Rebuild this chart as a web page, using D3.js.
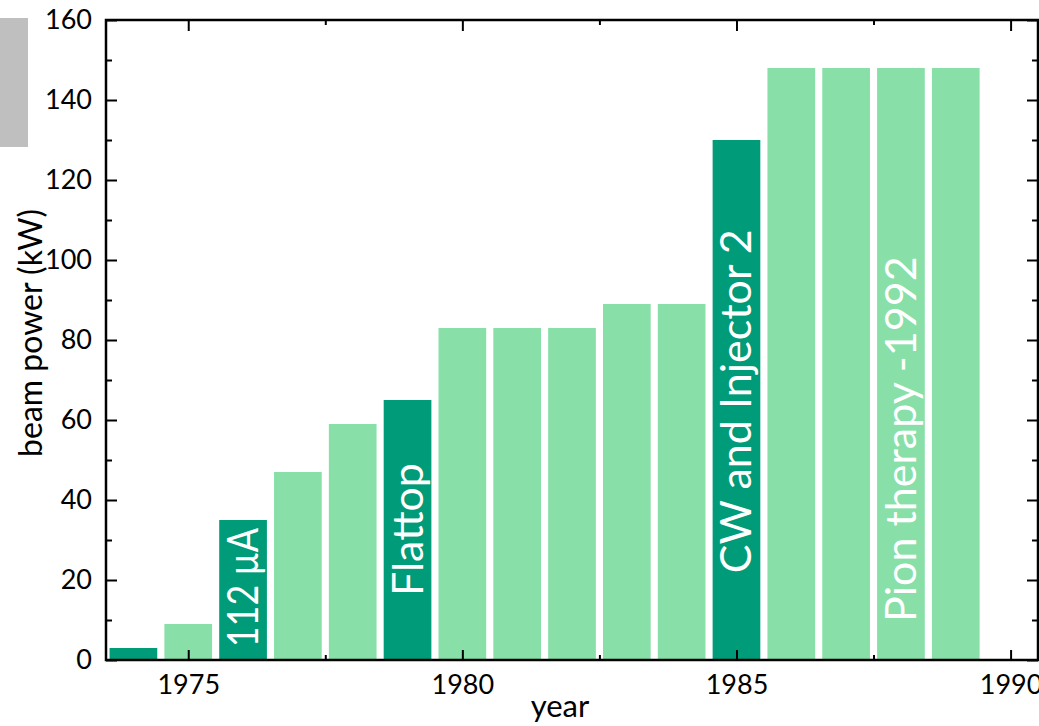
<!DOCTYPE html>
<html>
<head>
<meta charset="utf-8">
<script src="https://cdn.jsdelivr.net/npm/d3@7"></script>
<style>
  html, body { margin: 0; padding: 0; background: #fff; }
  svg { display: block; }
  text { font-family: Lato, "Open Sans", sans-serif; }
</style>
</head>
<body>
<svg id="chart" width="1039" height="726"></svg>
<script>
// Beam power history, one bar per year
const years  = [1974, 1975, 1976, 1977, 1978, 1979, 1980, 1981, 1982, 1983, 1984, 1985, 1986, 1987, 1988, 1989];
const power  = [3, 9, 35, 47, 59, 65, 83, 83, 83, 89, 89, 130, 148, 148, 148, 148];
// years with a milestone upgrade (drawn darker)
const milestoneYears = [1974, 1976, 1979, 1985];

// milestone annotations: year of the bar, text, and the kW level where the text starts
const noteYears  = [1976, 1979, 1985, 1988];
const noteTexts  = ["112 \u00b5A", "Flattop", "CW and Injector 2", "Pion therapy -1992"];
const noteStarts = [3.2, 16, 21.7, 9.5];

const xTicks = [1975, 1980, 1985, 1990];
const yTicks = [0, 20, 40, 60, 80, 100, 120, 140, 160];

const svg = d3.select("#chart");
const L = 106, R = 1038, T = 20, B = 660;

const x = d3.scaleLinear().domain([1973.5, 1990.5]).range([L, R]);
const y = d3.scaleLinear().domain([0, 160]).range([B, T]);

const dark = "#009b78", light = "#88e0a8";
const barW = x(1974.87) - x(1974);

// small grey block at the top-left edge
svg.append("rect").attr("x", 0).attr("y", 18).attr("width", 28).attr("height", 129).attr("fill", "#bfbfbf");

// bars
svg.append("g").selectAll("rect")
  .data(years.map((yr, i) => ({ yr, v: power[i] })))
  .join("rect")
  .attr("x", d => x(d.yr) - barW / 2)
  .attr("width", barW)
  .attr("y", d => y(d.v))
  .attr("height", d => y(0) - y(d.v))
  .attr("fill", d => milestoneYears.includes(d.yr) ? dark : light);

// annotations written inside the bars; squeezed if they would run past the bar top
svg.append("g").selectAll("text")
  .data(noteYears.map((yr, i) => ({ yr, t: noteTexts[i], s: noteStarts[i], v: power[years.indexOf(yr)] })))
  .join("text")
  .attr("transform", d => `translate(${x(d.yr) + 15},${y(d.s)}) rotate(-90)`)
  .attr("fill", "#fff")
  .attr("font-size", 43)
  .text(d => d.t)
  .each(function (d) {
    const room = y(d.s) - y(d.v) - 8;
    if (this.getComputedTextLength() > room) {
      d3.select(this).attr("textLength", room).attr("lengthAdjust", "spacingAndGlyphs");
    }
  });

// axes
const minorX = d3.range(1972.5, 1991, 2.5).filter(v => v > 1973.5 && v < 1990.5 && v % 5 !== 0);
const minorY = d3.range(10, 160, 20);

function styleAxis(g) {
  g.selectAll(".domain").remove();
  g.selectAll(".tick line").attr("stroke", "#000").attr("stroke-width", 2);
  g.selectAll(".tick text").attr("font-size", 27).attr("fill", "#000");
}

// bottom
svg.append("g").attr("transform", `translate(0,${B})`)
  .call(d3.axisBottom(x).tickValues(xTicks).tickFormat(d3.format("d")).tickSizeInner(-10).tickSizeOuter(0).tickPadding(15))
  .call(styleAxis);
svg.append("g").attr("transform", `translate(0,${B})`)
  .call(d3.axisBottom(x).tickValues(minorX).tickFormat("").tickSizeInner(-5).tickSizeOuter(0))
  .call(styleAxis);
// top
svg.append("g").attr("transform", `translate(0,${T})`)
  .call(d3.axisTop(x).tickValues(xTicks).tickFormat("").tickSizeInner(-11).tickSizeOuter(0))
  .call(styleAxis);
svg.append("g").attr("transform", `translate(0,${T})`)
  .call(d3.axisTop(x).tickValues(minorX).tickFormat("").tickSizeInner(-5).tickSizeOuter(0))
  .call(styleAxis);
// left
svg.append("g").attr("transform", `translate(${L},0)`)
  .call(d3.axisLeft(y).tickValues(yTicks).tickFormat(d3.format("d")).tickSizeInner(-11).tickSizeOuter(0).tickPadding(14))
  .call(styleAxis);
svg.append("g").attr("transform", `translate(${L},0)`)
  .call(d3.axisLeft(y).tickValues(minorY).tickFormat("").tickSizeInner(-6).tickSizeOuter(0))
  .call(styleAxis);
// right
svg.append("g").attr("transform", `translate(${R},0)`)
  .call(d3.axisRight(y).tickValues(yTicks).tickFormat("").tickSizeInner(-11).tickSizeOuter(0))
  .call(styleAxis);
svg.append("g").attr("transform", `translate(${R},0)`)
  .call(d3.axisRight(y).tickValues(minorY).tickFormat("").tickSizeInner(-6).tickSizeOuter(0))
  .call(styleAxis);

// frame
svg.append("rect").attr("x", L).attr("y", T).attr("width", R - L).attr("height", B - T)
  .attr("fill", "none").attr("stroke", "#000").attr("stroke-width", 2.5);

// axis titles
svg.append("text").attr("x", 560).attr("y", 717).attr("text-anchor", "middle")
  .attr("font-size", 31).text("year");
svg.append("text").attr("transform", `translate(42,333) rotate(-90)`).attr("text-anchor", "middle")
  .attr("font-size", 32).text("beam power (kW)");
</script>
</body>
</html>
